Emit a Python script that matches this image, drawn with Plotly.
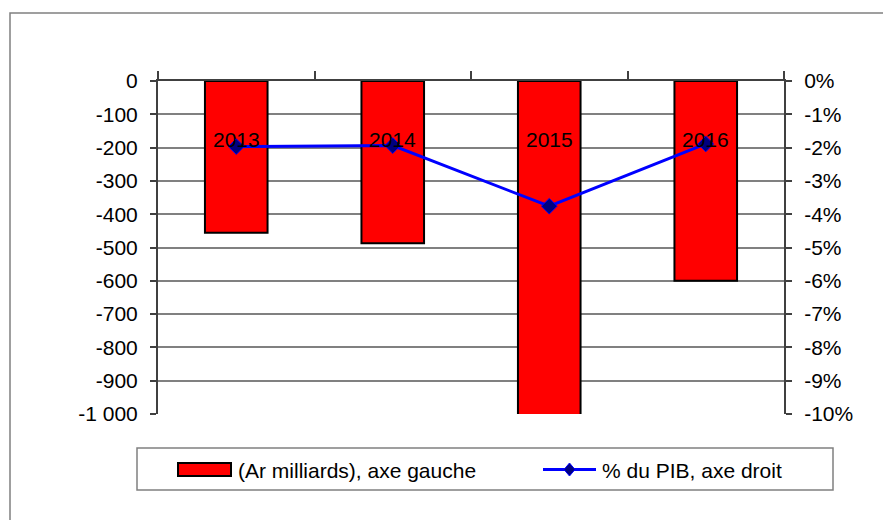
import plotly.graph_objects as go

years = ["2013", "2014", "2015", "2016"]
deficit_ar = [-456, -487, -1120, -600]          # Ar milliards (left axis)
deficit_pct = [-1.97, -1.94, -3.76, -1.89]      # % du PIB (right axis)
left_ticks = [0, -100, -200, -300, -400, -500, -600, -700, -800, -900, -1000]
left_ticktext = ["0", "-100", "-200", "-300", "-400", "-500", "-600", "-700", "-800", "-900", "-1 000"]
right_ticks = [0, -1, -2, -3, -4, -5, -6, -7, -8, -9, -10]
right_ticktext = [f"{v}%" for v in right_ticks]
bar_name = "(Ar milliards), axe gauche"
line_name = "% du PIB, axe droit"
label_level = -175

FONT = "Liberation Sans, Arial, sans-serif"
FS = 21
W, H = 883, 520
L, R, T, B = 158, 99, 81, 106
PW, PH = W - L - R, H - T - B


def px(x):
    return (x - L) / PW


def py(y):
    return (H - B - y) / PH


fig = go.Figure()
fig.add_trace(go.Bar(
    x=years, y=deficit_ar, name=bar_name,
    marker=dict(color="#FF0000", line=dict(color="#000000", width=2)),
    yaxis="y", width=0.4, showlegend=False,
))
fig.add_trace(go.Scatter(
    x=years, y=deficit_pct, name=line_name,
    mode="lines+markers", yaxis="y2", showlegend=False,
    line=dict(color="#0000FF", width=3),
    marker=dict(symbol="diamond", size=12, color="#000080", line=dict(color="#0000FF", width=1)),
))

for i, yr in enumerate(years):
    fig.add_annotation(x=i, y=label_level, xref="x", yref="y", text=yr,
                       showarrow=False, font=dict(size=FS, color="#000000", family=FONT))

# custom legend (box, swatches, text)
shapes = [
    dict(type="rect", xref="paper", yref="paper",
         x0=px(10), x1=px(900), y0=py(540), y1=py(13),
         line=dict(color="#808080", width=1.5), layer="below"),
    dict(type="rect", xref="paper", yref="paper",
         x0=px(137), x1=px(833), y0=py(490), y1=py(448),
         line=dict(color="#808080", width=1.5), fillcolor="white"),
    dict(type="rect", xref="paper", yref="paper",
         x0=px(178), x1=px(231), y0=py(476), y1=py(463),
         line=dict(color="#000000", width=2), fillcolor="#FF0000"),
    dict(type="line", xref="paper", yref="paper",
         x0=px(543), x1=px(596), y0=py(469.5), y1=py(469.5),
         line=dict(color="#0000FF", width=3)),
]
cx, cy = px(569.5), py(469.5)
dx, dy = 5.5 / PW, 6.5 / PH
shapes.append(dict(type="path", xref="paper", yref="paper",
                   path=f"M {cx-dx},{cy} L {cx},{cy+dy} L {cx+dx},{cy} L {cx},{cy-dy} Z",
                   fillcolor="#000080", line=dict(color="#0000FF", width=1)))

fig.add_annotation(x=px(236), y=py(470), xref="paper", yref="paper", text=bar_name,
                   xanchor="left", yanchor="middle", showarrow=False,
                   font=dict(size=FS, color="#000000", family=FONT))
fig.add_annotation(x=px(600), y=py(470), xref="paper", yref="paper", text=line_name,
                   xanchor="left", yanchor="middle", showarrow=False,
                   font=dict(size=FS, color="#000000", family=FONT))

fig.update_layout(
    width=W, height=H,
    margin=dict(l=L, r=R, t=T, b=B),
    paper_bgcolor="white", plot_bgcolor="white",
    font=dict(family=FONT, size=FS, color="#000000"),
    showlegend=False,
    xaxis=dict(type="category", side="top", showticklabels=False, ticks="outside",
               tickson="boundaries", ticklen=8, tickcolor="#404040", tickwidth=1.5,
               showline=True, linecolor="#404040", linewidth=1.5, showgrid=False,
               range=[-0.5, 3.5]),
    yaxis=dict(range=[-1000, 0], tickvals=left_ticks, ticktext=left_ticktext,
               ticks="outside", ticklen=6, tickcolor="#404040", tickwidth=1.5,
               showline=True, linecolor="#404040", linewidth=2,
               showgrid=True, gridcolor="#808080", gridwidth=1.5, zeroline=False,
               ticklabelstandoff=8),
    yaxis2=dict(range=[-10, 0], overlaying="y", side="right", tickvals=right_ticks,
                ticktext=right_ticktext, ticks="outside", ticklen=6, tickcolor="#404040",
                tickwidth=1.5, showline=True, linecolor="#404040", linewidth=2,
                showgrid=False, zeroline=False, ticklabelstandoff=8),
    shapes=shapes,
)

fig.write_html("out.html")
